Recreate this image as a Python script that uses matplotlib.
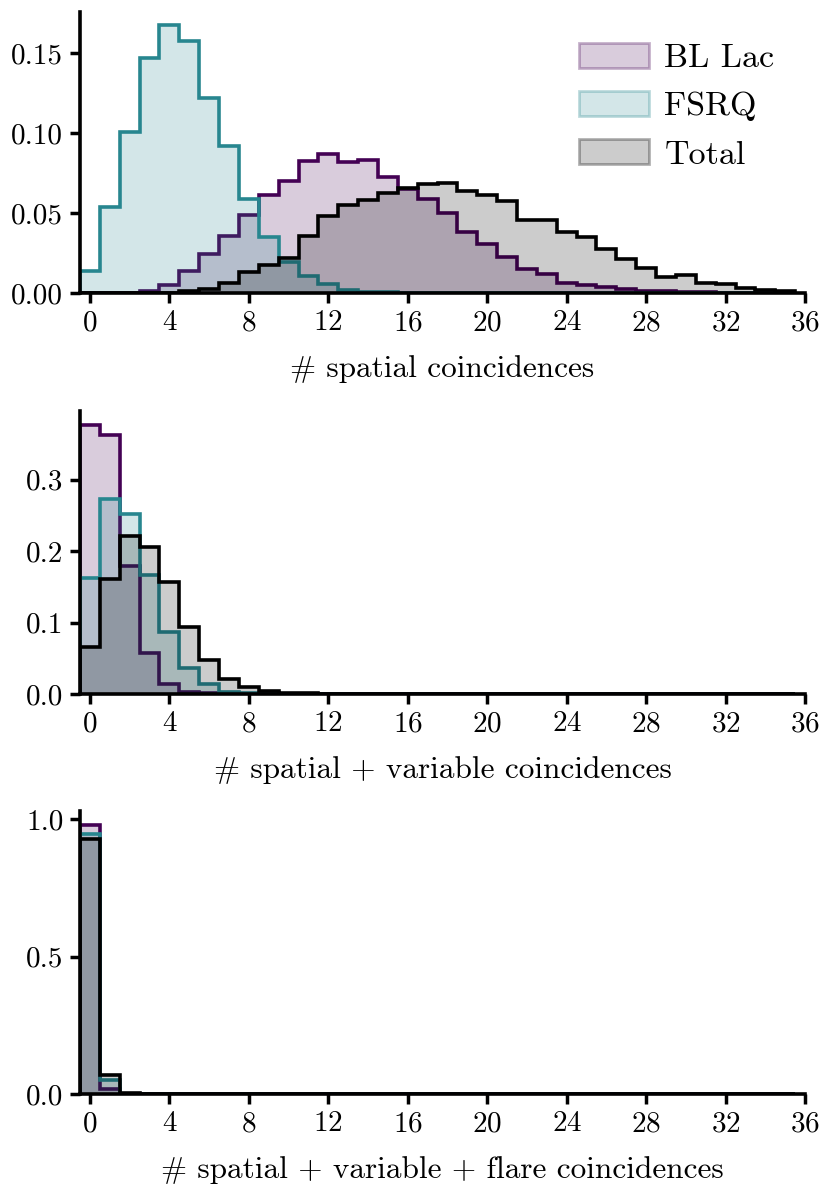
import numpy as np
import matplotlib
matplotlib.use("Agg")
import matplotlib.pyplot as plt
from matplotlib.patches import Patch
from matplotlib.colors import to_rgba

plt.rcParams['font.family'] = ['cmr10', 'DejaVu Serif']
plt.rcParams['mathtext.fontset'] = 'cm'
plt.rcParams['axes.formatter.use_mathtext'] = True
plt.rcParams['axes.unicode_minus'] = False

# counts 0..35, fraction of trials
n_bins = 36
labels = ['BL Lac', 'FSRQ', 'Total']

bllac_sp = [0, 0, 0.0002, 0.001, 0.0048, 0.0136, 0.0242, 0.0355, 0.049, 0.0616,
            0.0704, 0.0825, 0.0871, 0.0818, 0.0835, 0.0726, 0.0649, 0.0587, 0.0500, 0.0383,
            0.0304, 0.0227, 0.0148, 0.0119, 0.0061, 0.005, 0.004, 0.0023, 0.0015, 0.001,
            0.0006, 0.0004, 0.0003, 0.0002, 0.0001, 0.0001]
fsrq_sp = [0.0139, 0.0539, 0.1008, 0.1474, 0.1676, 0.1578, 0.1221, 0.0921, 0.0589, 0.0351,
           0.0196, 0.0109, 0.0056, 0.0017, 0.0008, 0.0004]
total_sp = [0, 0, 0, 0, 0.0002, 0.001, 0.0025, 0.0063, 0.0132, 0.0177,
            0.0219, 0.0355, 0.0482, 0.0553, 0.058, 0.0628, 0.0658, 0.0682, 0.0692, 0.0637,
            0.0612, 0.0577, 0.0456, 0.0456, 0.0383, 0.0348, 0.0275, 0.0212, 0.0154, 0.0102,
            0.0112, 0.0065, 0.0054, 0.0033, 0.0019, 0.0015]

bllac_var = [0.377, 0.3617, 0.1785, 0.057, 0.014, 0.0033, 0.001]
fsrq_var = [0.162, 0.2734, 0.2523, 0.1668, 0.0874, 0.036, 0.0136, 0.0033, 0.001]
total_var = [0.0664, 0.161, 0.2206, 0.2056, 0.1565, 0.0944, 0.0477, 0.0215, 0.0103, 0.0037,
             0.0019, 0.001, 0.0005, 0.0003, 0.0002]

bllac_fl = [0.9805, 0.0175, 0.0015]
fsrq_fl = [0.9465, 0.0525, 0.001]
total_fl = [0.927, 0.0706, 0.003]

xlabels = ['# spatial coincidences',
           '# spatial + variable coincidences',
           '# spatial + variable + flare coincidences']
yticks = [[0, 0.05, 0.10, 0.15], [0, 0.1, 0.2, 0.3], [0, 0.5, 1.0]]
yfmt = ['%.2f', '%.1f', '%.1f']

colors = ['#440154', '#27868F', 'black']
alpha = 0.2


def pad(v):
    out = np.zeros(n_bins)
    out[:len(v)] = v
    return out


panels = [[bllac_sp, fsrq_sp, total_sp],
          [bllac_var, fsrq_var, total_var],
          [bllac_fl, fsrq_fl, total_fl]]

edges = np.arange(n_bins + 1) - 0.5

fig = plt.figure(figsize=(8.31, 11.98), dpi=100)
boxes = [[0.0963, 0.7554, 0.8725, 0.2346],
         [0.0963, 0.4207, 0.8725, 0.2362],
         [0.0963, 0.0868, 0.8725, 0.2362]]

for i, (data, box) in enumerate(zip(panels, boxes)):
    ax = fig.add_axes(box)
    for vals, c in zip(data, colors):
        v = pad(vals)
        ax.stairs(v, edges, fill=True, color=c, alpha=alpha, lw=0)
        ax.stairs(v, edges, color=c, lw=2.6)
    ax.set_xlim(-0.5, 36)
    top = max(max(d) for d in data) * 1.05
    ax.set_ylim(0, top)
    ax.set_xticks(np.arange(0, 37, 4))
    ax.set_yticks(yticks[i])
    ax.set_yticklabels([yfmt[i] % t for t in yticks[i]])
    ax.tick_params(labelsize=21, length=7, width=2.5, pad=5)
    for s in ['top', 'right']:
        ax.spines[s].set_visible(False)
    for s in ['left', 'bottom']:
        ax.spines[s].set_linewidth(2.6)
    ax.set_xlabel(xlabels[i], fontsize=22.5, labelpad=14)

    if i == 0:
        handles = [Patch(facecolor=to_rgba(c, alpha),
                         edgecolor=to_rgba(c, alpha * 1.5), lw=2)
                   for c in colors]
        ax.legend(handles, labels, loc='upper right', frameon=False, fontsize=24.5,
                  handlelength=2.05, handleheight=0.75, handletextpad=0.45,
                  labelspacing=0.53, borderaxespad=0.5,
                  bbox_to_anchor=(1.0, 1.0))

fig.savefig('out.png', dpi=100)
